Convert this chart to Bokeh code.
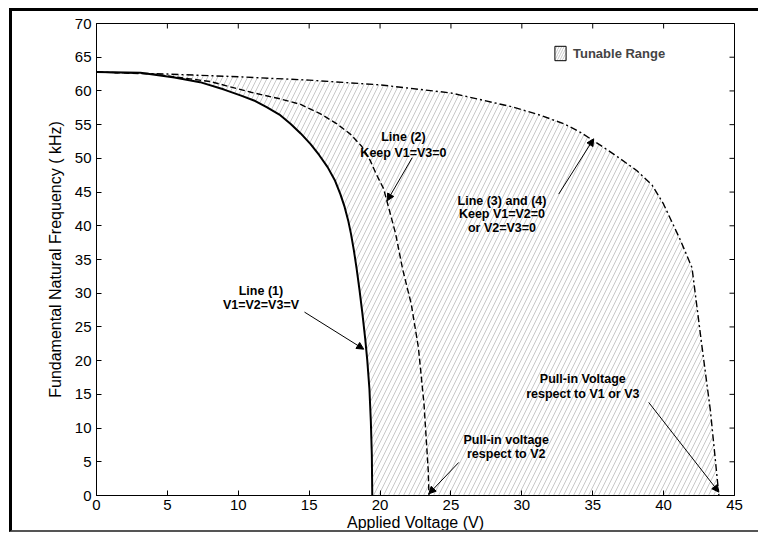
import math
from bokeh.plotting import figure
from bokeh.models import Arrow, NormalHead, Legend, LegendItem, ColumnDataSource
from bokeh.core.properties import value
from bokeh.embed import file_html
from bokeh.resources import INLINE

# Line (1): V1 = V2 = V3 = V
v_line1 = [0, 3.1, 5.5, 7.3, 9, 10.2, 11.2, 12.0, 12.9, 13.7, 14.4, 15.1, 15.7, 16.3,
           16.8, 17.2, 17.5, 17.75, 17.95, 18.15, 18.35, 18.55, 18.75, 18.95, 19.1,
           19.25, 19.35, 19.42, 19.45]
f_line1 = [62.8, 62.7, 62.0, 61.3, 60.2, 59.3, 58.5, 57.6, 56.5, 55.1, 53.7, 52.1, 50.5, 48.7,
           46.8, 44.7, 42.8, 40.8, 38.8, 36.4, 33.6, 30.5, 27.1, 23.3, 20.0,
           15.8, 11.0, 6.0, 0]

# Line (2): keep V1 = V3 = 0
v_line2 = [0, 4, 8, 10.9, 13, 14.4, 15.8, 16.9, 17.9, 18.7, 19.3, 19.7, 20.25, 21.1,
           21.6, 22.2, 22.7, 23.1, 23.4, 23.45]
f_line2 = [62.8, 62.5, 61.4, 59.8, 58.8, 58.0, 56.6, 55.2, 53.6, 51.8, 49.7, 47.8, 45.5, 38.8,
           33.5, 28.4, 22.0, 13.6, 3.7, 0]

# Line (3) and (4): keep V1 = V2 = 0 or V2 = V3 = 0
v_line3 = [0, 5, 10, 15, 20, 25, 29.4, 31.3, 33.0, 34.1, 35.07, 36.5, 38.1, 39.2, 40.0,
           41.2, 42.0, 42.7, 43.3, 43.9]
f_line3 = [62.8, 62.5, 62.1, 61.6, 60.9, 59.7, 57.6, 56.4, 55.1, 53.9, 52.6, 50.6, 48.2, 46.0, 43.2,
           37.8, 33.8, 22.2, 12.6, 0]

x_ticks = [0, 5, 10, 15, 20, 25, 30, 35, 40, 45]
y_ticks = [0, 5, 10, 15, 20, 25, 30, 35, 40, 45, 50, 55, 60, 65, 70]
x_max, y_max = 45, 70

FONT = "Liberation Sans"

p = figure(width=749, height=524, x_range=(0, x_max), y_range=(0, y_max),
           output_backend="svg", toolbar_location=None,
           min_border_left=84, min_border_right=27,
           min_border_top=12, min_border_bottom=40)
# page frame: heavy rule on top and left, light rule at the bottom
p.styles = {"margin-left": "9px", "margin-top": "8px",
            "border-left": "3px solid black", "border-top": "3px solid black",
            "border-bottom": "2px solid #555555"}
p.grid.visible = False
p.outline_line_color = "black"
p.outline_line_width = 1
p.background_fill_color = "white"
p.border_fill_color = "white"

for ax in (p.xaxis[0], p.yaxis[0]):
    ax.major_tick_in = 5
    ax.major_tick_out = 0
    ax.minor_tick_line_color = None
    ax.major_label_text_font = FONT
    ax.major_label_text_font_size = "15px"
    ax.major_label_text_color = "black"
    ax.axis_label_text_font = FONT
    ax.axis_label_text_font_size = "16px"
    ax.axis_label_text_font_style = "normal"
    ax.axis_label_text_color = "black"
    ax.axis_line_color = "black"
p.xaxis.ticker = x_ticks
p.yaxis.ticker = y_ticks
p.xaxis.axis_label = "Applied Voltage (V)"
p.yaxis.axis_label = "Fundamental Natural Frequency ( kHz)"
p.xaxis.major_label_standoff = 4
p.xaxis.axis_label_standoff = 1
p.yaxis.major_label_standoff = 5
p.yaxis.axis_label_standoff = 8

# inward ticks on the top and right edges of the box (half of each dash is clipped)
p.scatter(x_ticks, [y_max] * len(x_ticks), marker="dash", size=10,
          angle=math.pi / 2, line_color="black", line_width=1)
p.scatter([x_max] * len(y_ticks), y_ticks, marker="dash", size=10,
          line_color="black", line_width=1)

# tunable range: region between line (1) and line (3)/(4)
region_x = v_line3 + v_line1[::-1]
region_y = f_line3 + f_line1[::-1]
hatch = dict(hatch_pattern="/", hatch_color="#b0b0b0", hatch_scale=10, hatch_weight=0.7)
p.patch(region_x, region_y, fill_color=None, line_color=None, **hatch)

p.line(v_line3, f_line3, line_color="black", line_width=1.4, line_dash="7 3 2 3")
p.line(v_line2, f_line2, line_color="black", line_width=1.4, line_dash="6 3")
p.line(v_line1, f_line1, line_color="black", line_width=2)

# legend swatch for the hatched region
swatch = p.patch(region_x, region_y, fill_color=None, line_color="black",
                 line_width=1, visible=False, hatch_pattern="/", hatch_color="#b0b0b0",
                 hatch_scale=5, hatch_weight=0.7)
legend = Legend(items=[LegendItem(label="Tunable Range", renderers=[swatch])],
                location=(457, 433), padding=0, margin=0, spacing=0,
                glyph_width=14, glyph_height=18, label_standoff=6,
                border_line_color=None, background_fill_alpha=0,
                label_text_font=FONT, label_text_font_size="13px",
                label_text_font_style="bold")
p.add_layout(legend, "center")

# annotation texts
notes = ColumnDataSource(dict(
    x=[21.65, 21.65, 28.6, 28.6, 28.6, 11.6, 11.6, 28.9, 28.9, 34.3, 34.3],
    y=[53.1, 50.8, 43.7, 41.7, 39.7, 30.3, 28.3, 8.3, 6.2, 17.3, 15.1],
    text=["Line (2)", "Keep V1=V3=0", "Line (3) and (4)", "Keep V1=V2=0",
          "or V2=V3=0", "Line (1)", "V1=V2=V3=V", "Pull-in voltage",
          "respect to V2", "Pull-in Voltage", "respect to V1 or V3"],
))
p.text("x", "y", "text", source=notes, text_font=value(FONT),
       text_font_size="12.5px", text_font_style="bold", text_color="black",
       text_align="center", text_baseline="middle")

# arrows pointing at the curves
arrows = [
    (22.27, 50.1, 20.5, 43.7),
    (32.6, 44.7, 35.07, 52.9),
    (14.67, 27.2, 18.85, 21.7),
    (25.55, 4.9, 23.44, 0.25),
    (38.95, 13.8, 43.9, 0.5),
]
for xs, ys, xe, ye in arrows:
    p.add_layout(Arrow(x_start=xs, y_start=ys, x_end=xe, y_end=ye,
                       line_color="black", line_width=1,
                       end=NormalHead(size=7, fill_color="black",
                                      line_color="black")))

open("out.html", "w").write(file_html(p, INLINE))
